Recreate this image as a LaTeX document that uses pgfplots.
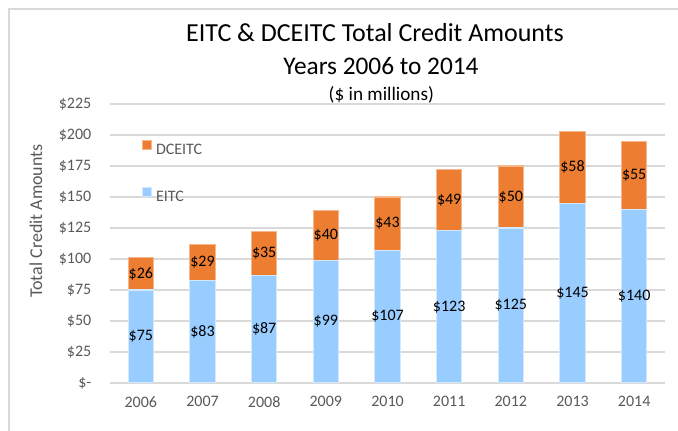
\documentclass[border=0pt]{standalone}
\usepackage{pgfplots}
\pgfplotsset{compat=1.18}
\usepackage{pgfplotstable}
\usepackage{fontspec}
\setmainfont{Carlito}

\definecolor{eitc}{RGB}{153,204,255}
\definecolor{dce}{RGB}{237,125,49}
\definecolor{gridgray}{RGB}{217,217,217}
\definecolor{txtgray}{RGB}{89,89,89}

% credit amounts, $ millions
\pgfplotstableread{
x year eitc dce
0 2006 75  26
1 2007 83  29
2 2008 87  35
3 2009 99  40
4 2010 107 43
5 2011 123 49
6 2012 125 50
7 2013 145 58
8 2014 140 55
}\credits

\pgfplotsset{
  frame/.style={at={(0pt,0pt)}, anchor=south west, scale only axis,
    width=416.25pt, height=209.25pt,
    xmin=-0.5, xmax=8.5, ymin=0, ymax=225, enlargelimits=false},
  seglabel/.style={draw=none, mark=none, point meta=explicit symbolic,
    nodes near coords={\$\pgfplotspointmeta},
    every node near coord/.style={anchor=center, text=black, inner sep=0pt,
      font=\fontsize{12}{14}\selectfont}},
}

\begin{document}
\begin{tikzpicture}
\useasboundingbox (-82.5pt,-36pt) rectangle (426pt,287.25pt);
% chart frame (right and bottom edges fall outside the picture)
\draw[gridgray, line width=1.5pt] (-75.75pt,-40pt) -- (-75.75pt,280.5pt) -- (430pt,280.5pt);

\node[anchor=base, font=\fontsize{19.5}{22}\selectfont] at (198.75pt,256pt) {EITC \& DCEITC Total Credit Amounts};
\node[anchor=base, font=\fontsize{19}{22}\selectfont] at (203.25pt,231pt) {Years 2006 to 2014};
\node[anchor=base, font=\fontsize{14.4}{17}\selectfont] at (203.5pt,211.5pt) {(\$ in millions)};
\node[rotate=90, text=txtgray, font=\fontsize{13.5}{16}\selectfont] at (-55.5pt,121.5pt) {Total Credit Amounts};

\begin{axis}[
  frame,
  ybar stacked, bar width=19pt,
  xtick=data, xticklabels from table={\credits}{year},
  ytick={0,25,...,225},
  yticklabels={\$-,\$25,\$50,\$75,\$100,\$125,\$150,\$175,\$200,\$225},
  axis x line*=bottom, axis y line*=left,
  x axis line style={gridgray, line width=1.3pt, -},
  y axis line style={draw=none},
  tick style={draw=none}, major tick length=0pt,
  ymajorgrids, grid style={gridgray, line width=1.1pt},
  ticklabel style={text=txtgray, font=\fontsize{12}{14}\selectfont},
  xticklabel style={yshift=-6.5pt},
  yticklabel style={xshift=-10.5pt},
  reverse legend,
  legend style={draw=none, fill=none, at={(0.0577,0.871)}, anchor=north west,
    inner sep=0pt, row sep=22.5pt, cells={anchor=west},
    nodes={inner sep=0pt, text=txtgray, font=\fontsize{12}{14}\selectfont},
    /tikz/every odd column/.append style={column sep=3pt}},
  legend image code/.code={\fill[#1] (0pt,1pt) rectangle (6.5pt,7.5pt);},
]
\addplot[fill=eitc, draw=eitc!45!white, line width=0.8pt]
  table[x=x, y=eitc] {\credits};
\addlegendentry{EITC}
\addplot[fill=dce, draw=dce!55!white, line width=0.8pt]
  table[x=x, y=dce] {\credits};
\addlegendentry{DCEITC}
\end{axis}

% value labels, centred in each segment
\begin{axis}[frame, hide axis]
\addplot[seglabel] table[x=x, y expr=\thisrow{eitc}/2, meta=eitc] {\credits};
\addplot[seglabel] table[x=x, y expr=\thisrow{eitc}+\thisrow{dce}/2, meta=dce] {\credits};
\end{axis}
\end{tikzpicture}
\end{document}
